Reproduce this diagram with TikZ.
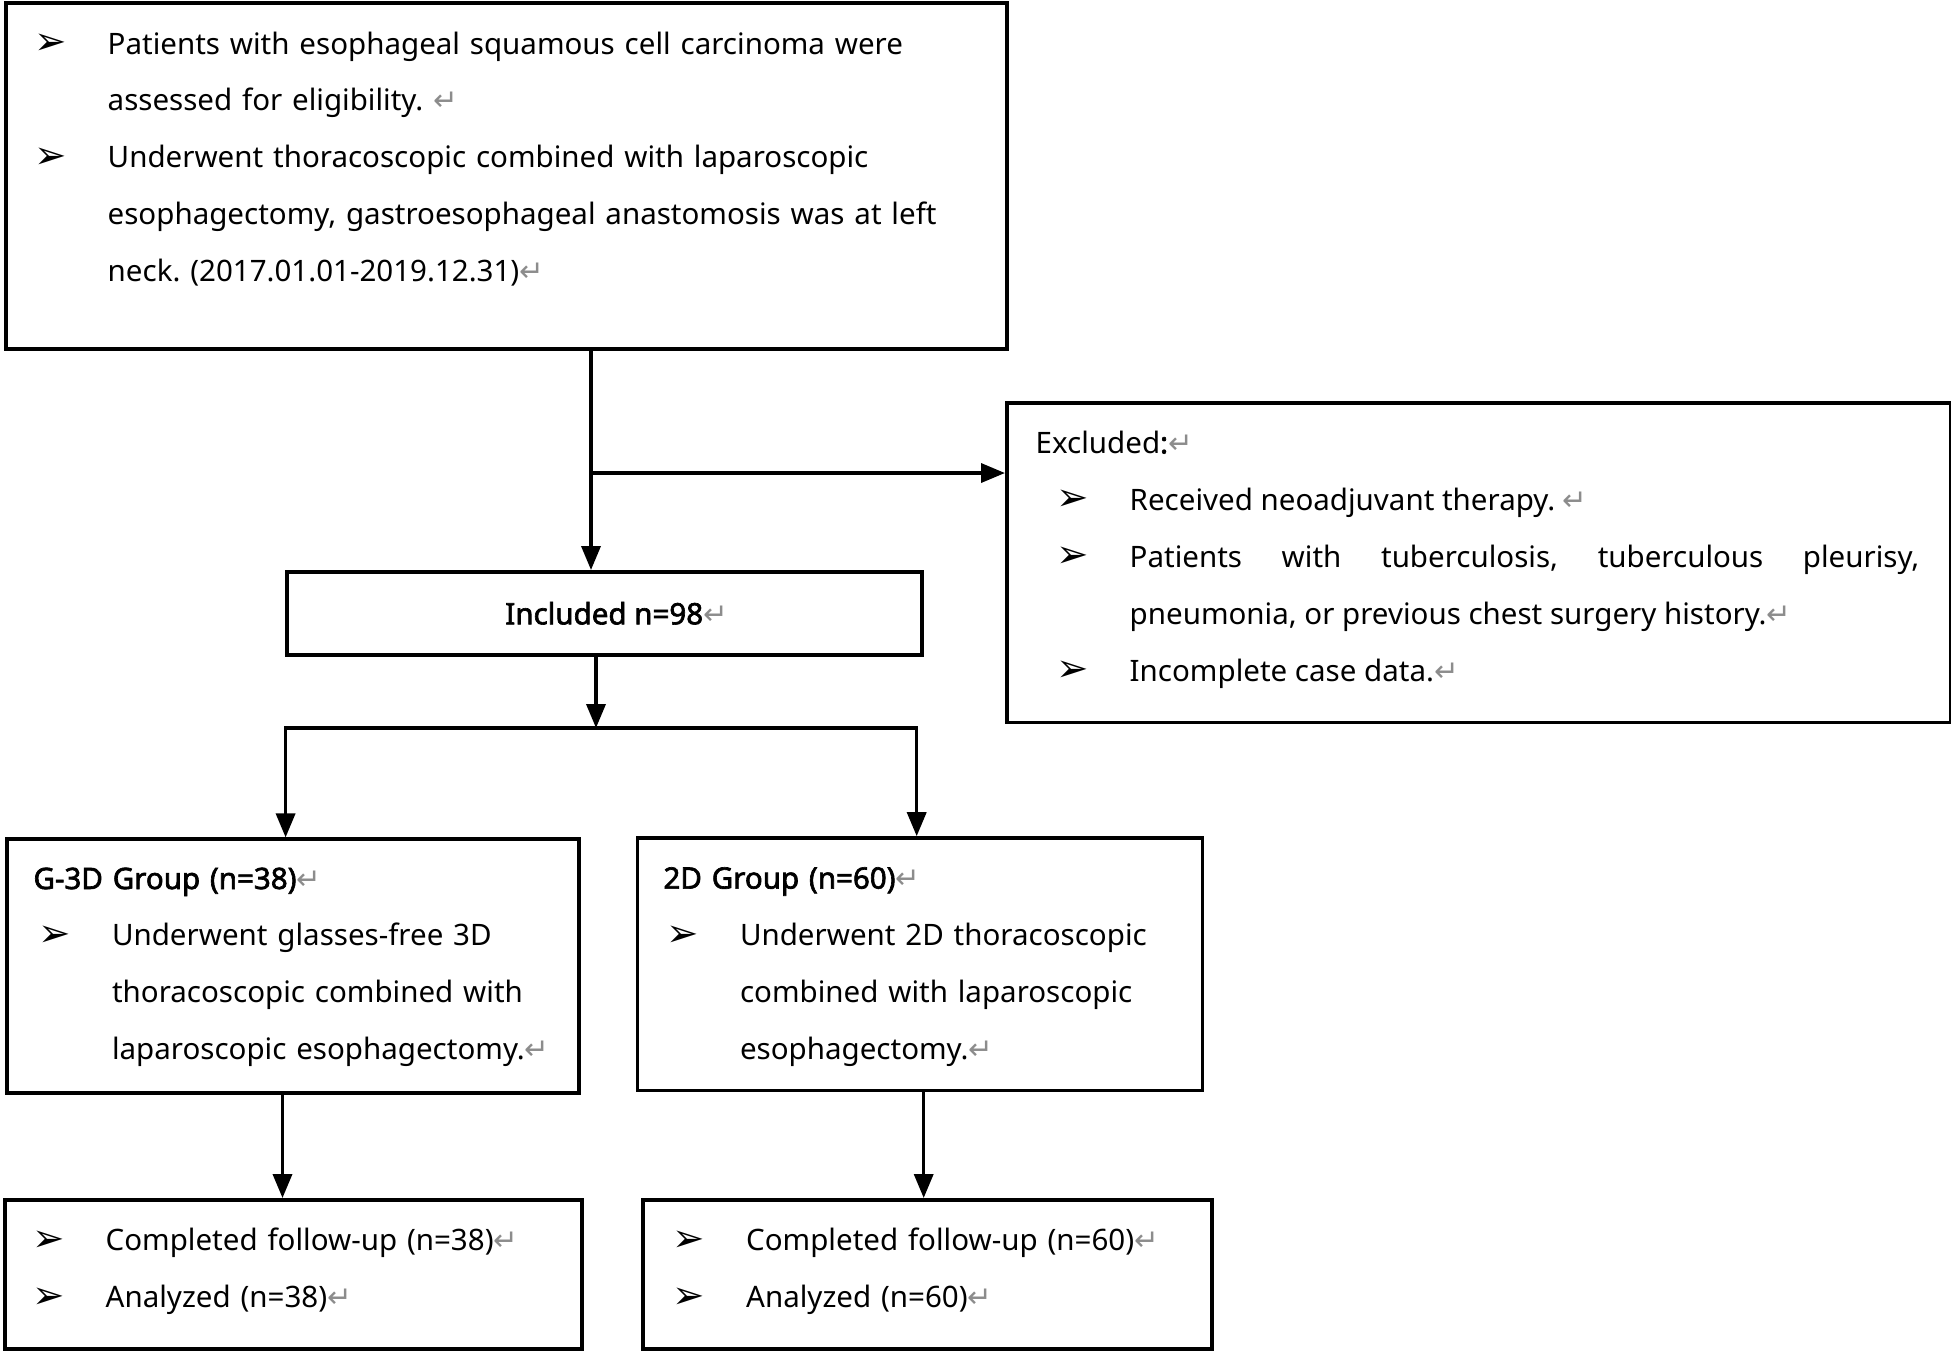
\documentclass[tikz,border=0pt]{standalone}
\usepackage{fontspec}
\setmainfont{Noto Sans}
\newfontfamily\symfont{DejaVu Sans}
\newfontfamily\heavy[FakeBold=2.2]{Noto Sans}
\usetikzlibrary{arrows.meta}
\definecolor{markgray}{RGB}{140,140,140}
\frenchspacing
\newcommand{\ret}{{\symfont\fontsize{8.4pt}{8pt}\selectfont\color{markgray}↵}}
\newcommand{\bulmark}{\raisebox{-0.2pt}{\symfont\fontsize{11pt}{11pt}\selectfont ➢}}
\newcommand{\bul}[1]{\noindent\hangindent=7.35mm\hangafter=1\makebox[7.35mm][l]{\bulmark}#1\par}
\begin{document}
\begin{tikzpicture}[x=1mm,y=-1mm,
	box/.style={draw,line width=1pt,inner sep=0pt,anchor=north west},
	txt/.style={anchor=base west,inner sep=0pt,align=left,text width=#1,font=\fontsize{8.4pt}{16.2pt}\selectfont},
	wire/.style={line width=1pt},
	link/.style={wire,-{Triangle[length=2.4mm,width=1.9mm]}}]
	\useasboundingbox (0,0) rectangle (195.1,135);
	%boxes
	\node[box,minimum width=100.1mm,minimum height=34.6mm] (screen) at (0.4,0.1) {};
	\node[box,minimum width=94.4mm,minimum height=31.95mm] (excl) at (100.5,40.1) {};
	\node[box,minimum width=63.5mm,minimum height=8.3mm,font=\fontsize{8.4pt}{10pt}\heavy] (incl) at (28.5,57.0) {Included n=98\rlap{\ret}};
	\node[box,minimum width=57.24mm,minimum height=25.39mm] (g3d) at (0.5,83.74) {};
	\node[box,minimum width=56.49mm,minimum height=25.26mm] (g2d) at (63.58,83.62) {};
	\node[box,minimum width=57.7mm,minimum height=14.9mm] (fu3d) at (0.3,119.8) {};
	\node[box,minimum width=56.9mm,minimum height=14.9mm] (fu2d) at (64.1,119.8) {};
	%box texts
	\node[txt=95mm] (screentxt) at (3.35,5.4) {%
		\bul{Patients with esophageal squamous cell carcinoma were\newline assessed for eligibility.\ \ret}
		\bul{Underwent thoracoscopic combined with laparoscopic\newline esophagectomy, gastroesophageal anastomosis was at left\newline neck. (2017.01.01-2019.12.31)\ret}};
	\node[txt=86.32mm,align=justify] (excltxt) at (105.55,45.33) {%
		\noindent\hspace*{-2.05mm}Excluded{\heavy:}\ret\par
		\bul{Received neoadjuvant therapy.\ \ret}
		\bul{Patients with tuberculosis, tuberculous pleurisy,\linebreak pneumonia, or previous chest surgery history.\ret}
		\bul{Incomplete case data.\ret}};
	\node[txt=60mm] (g3dtxt) at (3.78,88.9) {%
		\noindent\hspace*{-0.5mm}{\heavy G-3D Group (n=38)}\ret\par
		\bul{Underwent glasses-free 3D\newline thoracoscopic combined with\newline laparoscopic esophagectomy.\ret}};
	\node[txt=60mm] (g2dtxt) at (66.58,88.86) {%
		\noindent\hspace*{-0.3mm}{\heavy 2D Group (n=60)}\ret\par
		\bul{Underwent 2D thoracoscopic\newline combined with laparoscopic\newline esophagectomy.\ret}};
	\node[txt=60mm] (fu3dtxt) at (3.15,125.07) {%
		\bul{Completed follow-up (n=38)\ret}
		\bul{Analyzed (n=38)\ret}};
	\node[txt=60mm] (fu2dtxt) at (67.2,125.07) {%
		\bul{Completed follow-up (n=60)\ret}
		\bul{Analyzed (n=60)\ret}};
	%connectors
	\coordinate (split) at (59.1,47.3);
	\coordinate (fork) at (59.6,72.8);
	\coordinate (forkL) at (28.56,72.8);
	\coordinate (forkR) at (91.67,72.8);
	\draw[link] (screen.south -| split) -- (incl.north -| split);
	\draw[link] (split) -- (excl.west |- split);
	\draw[link] (incl.south -| fork) -- (fork);
	\draw[wire,line cap=rect] (forkL) -- (forkR);
	\draw[link] (forkL) -- (g3d.north -| forkL);
	\draw[link] (forkR) -- (g2d.north -| forkR);
	\draw[link] (g3d.south -| 28.25,0) -- (fu3d.north -| 28.25,0);
	\draw[link] (g2d.south -| 92.37,0) -- (fu2d.north -| 92.37,0);
\end{tikzpicture}
\end{document}
